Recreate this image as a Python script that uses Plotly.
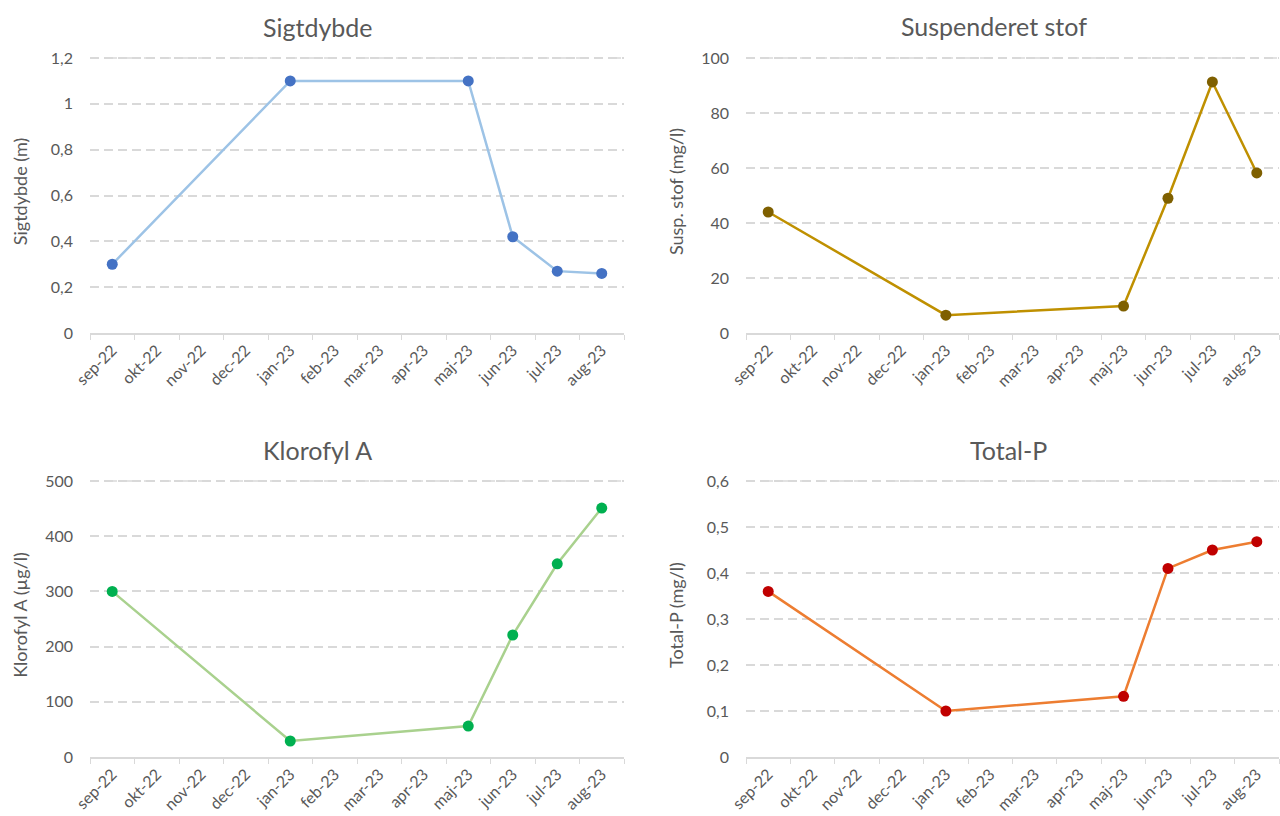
import plotly.graph_objects as go

months = ["sep-22", "okt-22", "nov-22", "dec-22", "jan-23", "feb-23",
          "mar-23", "apr-23", "maj-23", "jun-23", "jul-23", "aug-23"]
sample_months = ["sep-22", "jan-23", "maj-23", "jun-23", "jul-23", "aug-23"]

sigtdybde = [0.30, 1.10, 1.10, 0.42, 0.27, 0.26]
susp_stof = [44, 6.5, 9.8, 49, 91.3, 58.2]
klorofyl = [300, 29, 56, 221, 350, 451]
total_p = [0.36, 0.10, 0.132, 0.41, 0.45, 0.468]

titles = ["Sigtdybde", "Suspenderet stof", "Klorofyl A", "Total-P"]
ytitles = ["Sigtdybde (m)", "Susp. stof (mg/l)", "Klorofyl A (µg/l)", "Total-P (mg/l)"]
series = [sigtdybde, susp_stof, klorofyl, total_p]
line_colors = ["#9DC3E6", "#BF9000", "#A9D18E", "#ED7D31"]
marker_colors = ["#4472C4", "#7F6000", "#00B050", "#C00000"]
ymax = [1.2, 100, 500, 0.6]
ydticks = [0.2, 20, 100, 0.1]

W, H = 1280, 816
PAD = 8  # extra px above the top tick
xdoms = [[90 / W, 624 / W], [746 / W, 1279 / W]]
ypix = [(58, 333), (481, 757)]
title_pos = [(318, 27), (994, 26), (317, 450), (1008, 450)]
ytitle_standoff = [18, 12, 12, 18]

FONT = "Lato, 'Open Sans', sans-serif"
TXT = "#595959"
GRID = "#D9D9D9"
DASH = "9px,5px"

fig = go.Figure()
layout = dict(
    width=W, height=H, margin=dict(l=0, r=0, t=0, b=0),
    paper_bgcolor="white", plot_bgcolor="rgba(0,0,0,0)",
    showlegend=False, separators=", ",
    font=dict(family=FONT, color=TXT, size=16),
    annotations=[], shapes=[],
)

for i in range(4):
    r, c = divmod(i, 2)
    n = "" if i == 0 else str(i + 1)
    xa, ya = "x" + n, "y" + n
    top, bot = ypix[r]
    span = bot - top
    # top gridline (at the highest tick value)
    layout["shapes"].append(dict(
        type="line", xref=xa + " domain", yref=ya,
        x0=0, x1=1, y0=ymax[i], y1=ymax[i], layer="above",
        line=dict(color=GRID, width=1.5, dash="dash"),
    ))
    fig.add_trace(go.Scatter(
        x=sample_months, y=series[i], mode="lines+markers",
        line=dict(color=line_colors[i], width=2.5),
        marker=dict(color=marker_colors[i], size=11),
        xaxis=xa, yaxis=ya, cliponaxis=False,
    ))
    layout["xaxis" + n] = dict(
        domain=xdoms[c], anchor=ya, type="category", automargin=False,
        categoryorder="array", categoryarray=months, range=[-0.5, 11.5],
        tickson="boundaries", ticks="outside", ticklen=5, tickcolor=GRID,
        showline=True, linecolor=GRID, linewidth=1.5, showgrid=False,
        tickangle=-45, tickfont=dict(size=16, color=TXT), zeroline=False,
    )
    layout["yaxis" + n] = dict(
        domain=[1 - bot / H, 1 - (top - PAD) / H], anchor=xa,
        range=[0, ymax[i] * (span + PAD) / span],
        tick0=0, dtick=ydticks[i], tickmode="linear",
        automargin=False,
        showgrid=True, gridcolor=GRID, griddash=DASH, gridwidth=1.5,
        zeroline=False, showline=False, ticks="", ticklabelstandoff=16,
        tickfont=dict(size=16, color=TXT),
        title=dict(text=ytitles[i], font=dict(size=18, color=TXT),
                   standoff=ytitle_standoff[i]),
    )
    tx, ty = title_pos[i]
    layout["annotations"].append(dict(
        text=titles[i], x=tx / W, y=1 - ty / H,
        xref="paper", yref="paper", showarrow=False,
        xanchor="center", yanchor="middle",
        font=dict(size=25, color=TXT, family=FONT),
    ))

fig.update_layout(**layout)
fig.write_html("out.html")
